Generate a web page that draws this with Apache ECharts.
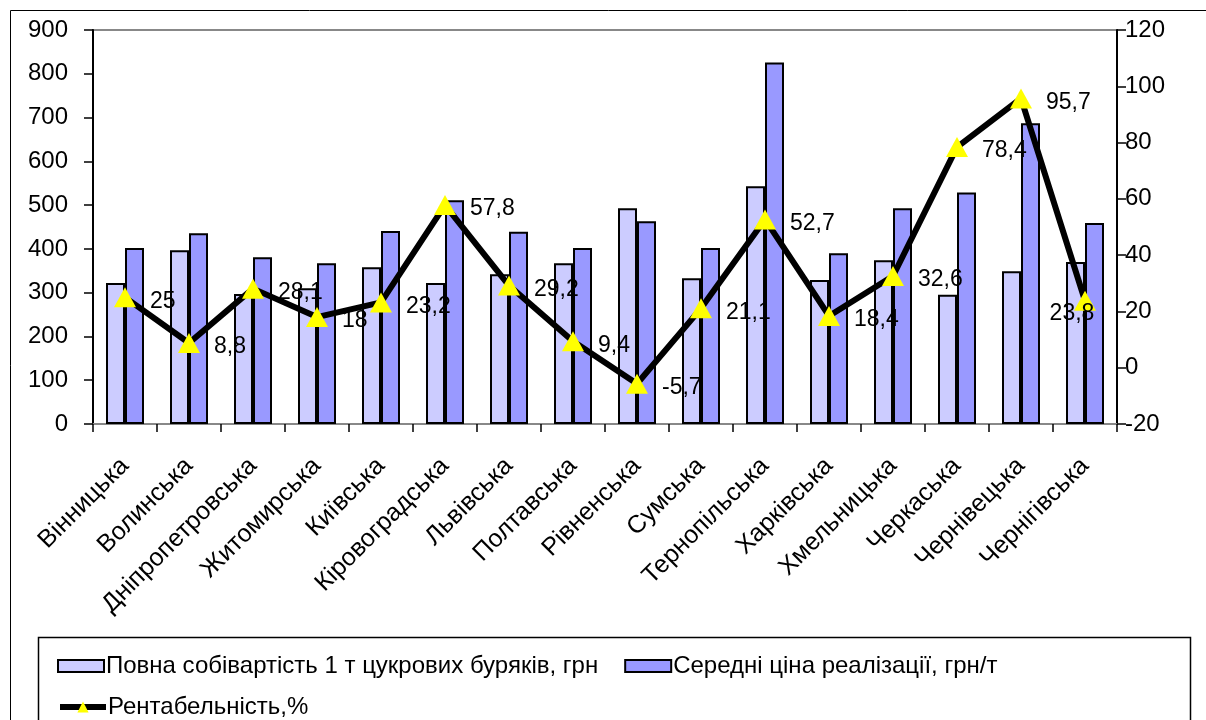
<!DOCTYPE html>
<html><head><meta charset="utf-8">
<script src="https://cdn.jsdelivr.net/npm/echarts@6/dist/echarts.min.js"></script>
<style>html,body{margin:0;padding:0;background:#fff}#c{width:1206px;height:720px}</style>
</head><body><div id="c"></div>
<script>
const categories = ['Вінницька','Волинська','Дніпропетровська','Житомирська','Київська','Кіровоградська','Львівська','Полтавська','Рівненська','Сумська','Тернопільська','Харківська','Хмельницька','Черкаська','Чернівецька','Чернігівська'];
const costValues = [322, 397, 297, 310, 358, 322, 342, 367, 493, 333, 543, 329, 374, 295, 349, 370];
const priceValues = [402, 436, 381, 367, 441, 511, 439, 402, 463, 402, 826, 390, 493, 529, 687, 459];
const profitValues = [25, 8.8, 28.1, 18, 23.2, 57.8, 29.2, 9.4, -5.7, 21.1, 52.7, 18.4, 32.6, 78.4, 95.7, 23.8];
const leftTicks = {min: 0, max: 900, interval: 100};
const rightTicks = {min: -20, max: 120, interval: 20};
const names = ['Повна собівартість 1 т цукрових буряків, грн', 'Середні ціна реалізації, грн/т', 'Рентабельність,%'];

const font = 'Liberation Sans, Arial, sans-serif';
const lastIdx = profitValues.length - 1;
const profitData = profitValues.map((v, i) => i === lastIdx
  ? {value: v, label: {position: 'inside', offset: [-13, 13]}}
  : v);

const chart = echarts.init(document.getElementById('c'));
chart.setOption({
  animation: false,
  textStyle: {fontFamily: font, color: '#000'},
  graphic: [
    {type: 'rect', shape: {x: 10.5, y: 10.5, width: 1250, height: 760}, style: {fill: 'none', stroke: '#000', lineWidth: 1}, silent: true, z: -1},
    {type: 'rect', shape: {x: 38.5, y: 637.5, width: 1152, height: 120}, style: {fill: 'none', stroke: '#000', lineWidth: 1.5}, silent: true, z: -1}
  ],
  grid: {left: 93, right: 89, top: 30, bottom: 296, show: true, borderColor: '#888', borderWidth: 2, backgroundColor: 'transparent'},
  legend: [
    {data: [{name: names[0], icon: 'rect'}, {name: names[1], icon: 'rect'}], left: 52, top: 649, itemWidth: 46, itemHeight: 12, itemGap: 26,
     textStyle: {fontSize: 24, fontFamily: font, color: '#000', padding: [0, 0, 0, -3]}},
    {data: [names[2]], left: 52, top: 690, itemWidth: 46, itemHeight: 14,
     lineStyle: {width: 6, color: '#000'},
     textStyle: {fontSize: 24, fontFamily: font, color: '#000', padding: [0, 0, 0, -3]}}
  ],
  xAxis: {
    type: 'category', data: categories,
    axisLine: {lineStyle: {color: '#888', width: 2}},
    axisTick: {show: true, length: 8, lineStyle: {color: '#000', width: 1.5}},
    axisLabel: {interval: 0, rotate: 45, fontSize: 25, color: '#000', margin: 38, fontFamily: font}
  },
  yAxis: [
    {type: 'value', min: leftTicks.min, max: leftTicks.max, interval: leftTicks.interval, position: 'left',
     axisLine: {show: true, lineStyle: {color: '#000', width: 2}},
     axisTick: {show: true, length: 9, lineStyle: {color: '#000', width: 1.5}},
     splitLine: {show: false},
     axisLabel: {fontSize: 24, color: '#000', margin: 25, fontFamily: font}},
    {type: 'value', min: rightTicks.min, max: rightTicks.max, interval: rightTicks.interval, position: 'right',
     axisLine: {show: true, lineStyle: {color: '#000', width: 2}},
     axisTick: {show: true, length: 9, lineStyle: {color: '#000', width: 1.5}},
     splitLine: {show: false},
     axisLabel: {fontSize: 24, color: '#000', margin: 8, fontFamily: font}}
  ],
  series: [
    {name: names[0], type: 'bar', data: costValues, barWidth: 19, barGap: '0%',
     itemStyle: {color: '#CCCCFF', borderColor: '#000', borderWidth: 2}},
    {name: names[1], type: 'bar', data: priceValues, barWidth: 19, barGap: '0%',
     itemStyle: {color: '#9999FF', borderColor: '#000', borderWidth: 2}},
    {name: names[2], type: 'line', yAxisIndex: 1, data: profitData,
     lineStyle: {color: '#000', width: 6}, symbol: 'triangle', symbolSize: [22, 20],
     itemStyle: {color: '#FFFF00', borderWidth: 0},
     label: {show: true, position: 'right', distance: 14, offset: [0, 4], fontSize: 23, color: '#000', fontFamily: font,
             formatter: p => String(p.value).replace('.', ',')},
     z: 5}
  ]
});
</script></body></html>
